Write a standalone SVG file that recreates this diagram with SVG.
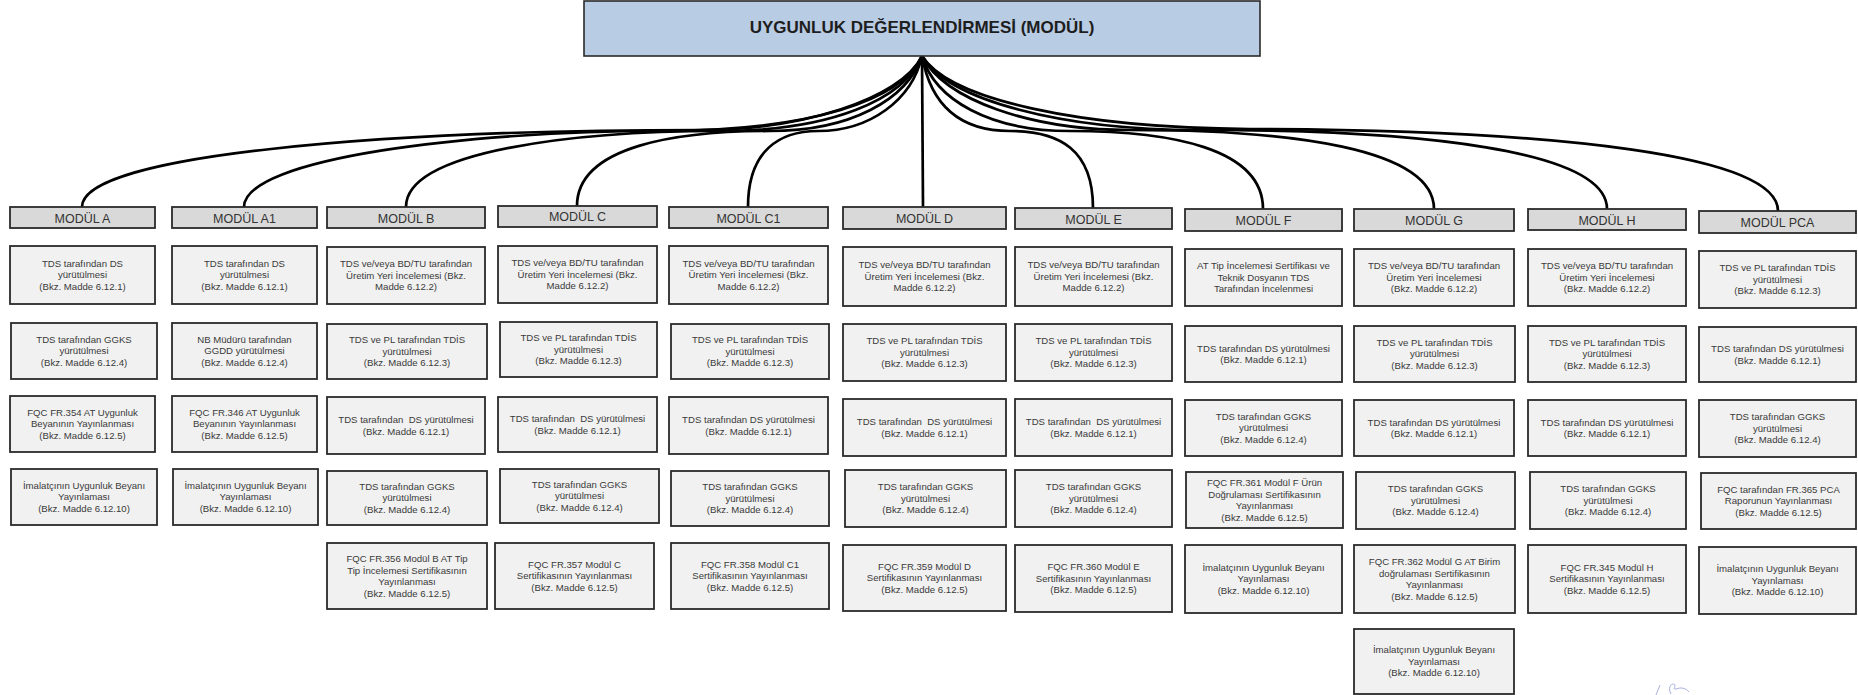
<svg xmlns="http://www.w3.org/2000/svg" width="1858" height="695" viewBox="0 0 1858 695">
<style>
.title{fill:#b8cce4;stroke:#2a2a2a;stroke-width:1.6}
.hdr{fill:#d9d9d9;stroke:#2a2a2a;stroke-width:1.8}
.box{fill:#f1f1f1;stroke:#2a2a2a;stroke-width:1.8}
.tt{font-family:"Liberation Sans",Arial,sans-serif;font-size:17px;font-weight:bold;fill:#1e1e1e;text-anchor:middle}
.h{font-family:"Liberation Sans",Arial,sans-serif;font-size:12.5px;fill:#333;text-anchor:middle}
.t{font-family:"Liberation Sans",Arial,sans-serif;font-size:9.6px;fill:#3a3a3a;text-anchor:middle;white-space:pre}
.conn path{fill:none;stroke:#000;stroke-width:2.7}
</style>
<rect width="1858" height="695" fill="#fff"/>

<g id="connectors" class="conn">
<path d="M922,56 C900,100 800,130 700,130 C380,130 82,155 82,207"/>
<path d="M922,56 C902,100 812,131 660,131 C470,131 244,158 244,207"/>
<path d="M922,56 C904,100 830,131 720,131 C580,131 406,150 406,207"/>
<path d="M922,56 C907,100 850,131 770,131 C680,131 577,145 577,206"/>
<path d="M922,56 C912,100 870,131 818,131 C780,131 748,150 748,207"/>
<path d="M922,56 L923,207"/>
<path d="M922,56 C930,100 955,131 1010,131 C1060,131 1093,150 1093,208"/>
<path d="M922,56 C935,100 990,131 1070,131 C1170,131 1263,148 1263,209"/>
<path d="M922,56 C945,100 1030,130 1130,130 C1290,130 1434,148 1434,209"/>
<path d="M922,56 C948,100 1060,130 1200,130 C1420,130 1607,150 1607,209"/>
<path d="M922,56 C950,100 1080,128 1250,129 C1560,130 1778,155 1778,211"/>
</g>

<g id="root"><rect class="title" x="584" y="1" width="676" height="55"/><text class="tt" x="922" y="33">UYGUNLUK DEĞERLENDİRMESİ (MODÜL)</text></g>

<!-- MODÜL A -->
<g id="modul-a">
<rect class="hdr" x="10" y="207" width="145" height="21"/><text class="h" x="82.5" y="222.5">MODÜL A</text>
</g>
<g id="a1"><rect class="box" x="10" y="246" width="145" height="58"/><text class="t" x="82.5" y="266.9">TDS tarafından DS<tspan x="82.5" dy="11.5">yürütülmesi</tspan><tspan x="82.5" dy="11.5">(Bkz. Madde 6.12.1)</tspan></text></g>
<g id="a2"><rect class="box" x="11" y="323" width="146" height="56"/><text class="t" x="84" y="342.9">TDS tarafından GGKS<tspan x="84" dy="11.5">yürütülmesi</tspan><tspan x="84" dy="11.5">(Bkz. Madde 6.12.4)</tspan></text></g>
<g id="a3"><rect class="box" x="10" y="396" width="145" height="56"/><text class="t" x="82.5" y="415.9">FQC FR.354 AT Uygunluk<tspan x="82.5" dy="11.5">Beyanının Yayınlanması</tspan><tspan x="82.5" dy="11.5">(Bkz. Madde 6.12.5)</tspan></text></g>
<g id="a4"><rect class="box" x="11" y="469" width="146" height="56"/><text class="t" x="84" y="488.9">İmalatçının Uygunluk Beyanı<tspan x="84" dy="11.5">Yayınlaması</tspan><tspan x="84" dy="11.5">(Bkz. Madde 6.12.10)</tspan></text></g>

<!-- MODÜL A1 -->
<g id="modul-a1">
<rect class="hdr" x="172" y="207" width="145" height="21"/><text class="h" x="244.5" y="222.5">MODÜL A1</text>
</g>
<g id="a1-1"><rect class="box" x="172" y="246" width="145" height="58"/><text class="t" x="244.5" y="266.9">TDS tarafından DS<tspan x="244.5" dy="11.5">yürütülmesi</tspan><tspan x="244.5" dy="11.5">(Bkz. Madde 6.12.1)</tspan></text></g>
<g id="a1-2"><rect class="box" x="172" y="323" width="145" height="56"/><text class="t" x="244.5" y="342.9">NB Müdürü tarafından<tspan x="244.5" dy="11.5">GGDD yürütülmesi</tspan><tspan x="244.5" dy="11.5">(Bkz. Madde 6.12.4)</tspan></text></g>
<g id="a1-3"><rect class="box" x="172" y="396" width="145" height="56"/><text class="t" x="244.5" y="415.9">FQC FR.346 AT Uygunluk<tspan x="244.5" dy="11.5">Beyanının Yayınlanması</tspan><tspan x="244.5" dy="11.5">(Bkz. Madde 6.12.5)</tspan></text></g>
<g id="a1-4"><rect class="box" x="173" y="469" width="145" height="56"/><text class="t" x="245.5" y="488.9">İmalatçının Uygunluk Beyanı<tspan x="245.5" dy="11.5">Yayınlaması</tspan><tspan x="245.5" dy="11.5">(Bkz. Madde 6.12.10)</tspan></text></g>

<!-- MODÜL B -->
<g id="modul-b">
<rect class="hdr" x="327" y="207" width="158" height="21"/><text class="h" x="406" y="222.5">MODÜL B</text>
</g>
<g id="b1"><rect class="box" x="327" y="247" width="158" height="57"/><text class="t" x="406" y="267.4">TDS ve/veya BD/TU tarafından<tspan x="406" dy="11.5">Üretim Yeri İncelemesi (Bkz.</tspan><tspan x="406" dy="11.5">Madde 6.12.2)</tspan></text></g>
<g id="b2"><rect class="box" x="327" y="324" width="160" height="55"/><text class="t" x="407" y="343.4">TDS ve PL tarafından TDİS<tspan x="407" dy="11.5">yürütülmesi</tspan><tspan x="407" dy="11.5">(Bkz. Madde 6.12.3)</tspan></text></g>
<g id="b3"><rect class="box" x="327" y="397" width="158" height="57"/><text class="t" x="406" y="423.2">TDS tarafından  DS yürütülmesi<tspan x="406" dy="11.5">(Bkz. Madde 6.12.1)</tspan></text></g>
<g id="b4"><rect class="box" x="327" y="471" width="160" height="54"/><text class="t" x="407" y="489.9">TDS tarafından GGKS<tspan x="407" dy="11.5">yürütülmesi</tspan><tspan x="407" dy="11.5">(Bkz. Madde 6.12.4)</tspan></text></g>
<g id="b5"><rect class="box" x="327" y="543" width="160" height="66"/><text class="t" x="407" y="562.2">FQC FR.356 Modül B AT Tip<tspan x="407" dy="11.5">Tip İncelemesi Sertifikasının</tspan><tspan x="407" dy="11.5">Yayınlanması</tspan><tspan x="407" dy="11.5">(Bkz. Madde 6.12.5)</tspan></text></g>

<!-- MODÜL C -->
<g id="modul-c">
<rect class="hdr" x="498" y="206" width="159" height="21"/><text class="h" x="577.5" y="221">MODÜL C</text>
</g>
<g id="c1"><rect class="box" x="498" y="246" width="159" height="57"/><text class="t" x="577.5" y="266.4">TDS ve/veya BD/TU tarafından<tspan x="577.5" dy="11.5">Üretim Yeri İncelemesi (Bkz.</tspan><tspan x="577.5" dy="11.5">Madde 6.12.2)</tspan></text></g>
<g id="c2"><rect class="box" x="500" y="322" width="157" height="55"/><text class="t" x="578.5" y="341.4">TDS ve PL tarafından TDİS<tspan x="578.5" dy="11.5">yürütülmesi</tspan><tspan x="578.5" dy="11.5">(Bkz. Madde 6.12.3)</tspan></text></g>
<g id="c3"><rect class="box" x="498" y="397" width="159" height="55"/><text class="t" x="577.5" y="422.2">TDS tarafından  DS yürütülmesi<tspan x="577.5" dy="11.5">(Bkz. Madde 6.12.1)</tspan></text></g>
<g id="c4"><rect class="box" x="500" y="469" width="159" height="54"/><text class="t" x="579.5" y="487.9">TDS tarafından GGKS<tspan x="579.5" dy="11.5">yürütülmesi</tspan><tspan x="579.5" dy="11.5">(Bkz. Madde 6.12.4)</tspan></text></g>
<g id="c5"><rect class="box" x="495" y="543" width="159" height="66"/><text class="t" x="574.5" y="567.9">FQC FR.357 Modül C<tspan x="574.5" dy="11.5">Sertifikasının Yayınlanması</tspan><tspan x="574.5" dy="11.5">(Bkz. Madde 6.12.5)</tspan></text></g>

<!-- MODÜL C1 -->
<g id="modul-c1">
<rect class="hdr" x="669" y="207" width="159" height="21"/><text class="h" x="748.5" y="222.5">MODÜL C1</text>
</g>
<g id="c1-1"><rect class="box" x="669" y="246" width="159" height="58"/><text class="t" x="748.5" y="266.9">TDS ve/veya BD/TU tarafından<tspan x="748.5" dy="11.5">Üretim Yeri İncelemesi (Bkz.</tspan><tspan x="748.5" dy="11.5">Madde 6.12.2)</tspan></text></g>
<g id="c1-2"><rect class="box" x="671" y="324" width="158" height="55"/><text class="t" x="750" y="343.4">TDS ve PL tarafından TDİS<tspan x="750" dy="11.5">yürütülmesi</tspan><tspan x="750" dy="11.5">(Bkz. Madde 6.12.3)</tspan></text></g>
<g id="c1-3"><rect class="box" x="669" y="397" width="159" height="57"/><text class="t" x="748.5" y="423.2">TDS tarafından DS yürütülmesi<tspan x="748.5" dy="11.5">(Bkz. Madde 6.12.1)</tspan></text></g>
<g id="c1-4"><rect class="box" x="671" y="471" width="158" height="55"/><text class="t" x="750" y="490.4">TDS tarafından GGKS<tspan x="750" dy="11.5">yürütülmesi</tspan><tspan x="750" dy="11.5">(Bkz. Madde 6.12.4)</tspan></text></g>
<g id="c1-5"><rect class="box" x="671" y="543" width="158" height="66"/><text class="t" x="750" y="567.9">FQC FR.358 Modül C1<tspan x="750" dy="11.5">Sertifikasının Yayınlanması</tspan><tspan x="750" dy="11.5">(Bkz. Madde 6.12.5)</tspan></text></g>

<!-- MODÜL D -->
<g id="modul-d">
<rect class="hdr" x="843" y="207" width="163" height="22"/><text class="h" x="924.5" y="223">MODÜL D</text>
</g>
<g id="d1"><rect class="box" x="843" y="247" width="163" height="59"/><text class="t" x="924.5" y="268.4">TDS ve/veya BD/TU tarafından<tspan x="924.5" dy="11.5">Üretim Yeri İncelemesi (Bkz.</tspan><tspan x="924.5" dy="11.5">Madde 6.12.2)</tspan></text></g>
<g id="d2"><rect class="box" x="843" y="324" width="163" height="57"/><text class="t" x="924.5" y="344.4">TDS ve PL tarafından TDİS<tspan x="924.5" dy="11.5">yürütülmesi</tspan><tspan x="924.5" dy="11.5">(Bkz. Madde 6.12.3)</tspan></text></g>
<g id="d3"><rect class="box" x="843" y="399" width="163" height="57"/><text class="t" x="924.5" y="425.2">TDS tarafından  DS yürütülmesi<tspan x="924.5" dy="11.5">(Bkz. Madde 6.12.1)</tspan></text></g>
<g id="d4"><rect class="box" x="845" y="470" width="161" height="57"/><text class="t" x="925.5" y="490.4">TDS tarafından GGKS<tspan x="925.5" dy="11.5">yürütülmesi</tspan><tspan x="925.5" dy="11.5">(Bkz. Madde 6.12.4)</tspan></text></g>
<g id="d5"><rect class="box" x="843" y="545" width="163" height="66"/><text class="t" x="924.5" y="569.9">FQC FR.359 Modül D<tspan x="924.5" dy="11.5">Sertifikasının Yayınlanması</tspan><tspan x="924.5" dy="11.5">(Bkz. Madde 6.12.5)</tspan></text></g>

<!-- MODÜL E -->
<g id="modul-e">
<rect class="hdr" x="1015" y="208" width="157" height="21"/><text class="h" x="1093.5" y="223.5">MODÜL E</text>
</g>
<g id="e1"><rect class="box" x="1015" y="247" width="157" height="59"/><text class="t" x="1093.5" y="268.4">TDS ve/veya BD/TU tarafından<tspan x="1093.5" dy="11.5">Üretim Yeri İncelemesi (Bkz.</tspan><tspan x="1093.5" dy="11.5">Madde 6.12.2)</tspan></text></g>
<g id="e2"><rect class="box" x="1015" y="324" width="157" height="57"/><text class="t" x="1093.5" y="344.4">TDS ve PL tarafından TDİS<tspan x="1093.5" dy="11.5">yürütülmesi</tspan><tspan x="1093.5" dy="11.5">(Bkz. Madde 6.12.3)</tspan></text></g>
<g id="e3"><rect class="box" x="1015" y="399" width="157" height="57"/><text class="t" x="1093.5" y="425.2">TDS tarafından  DS yürütülmesi<tspan x="1093.5" dy="11.5">(Bkz. Madde 6.12.1)</tspan></text></g>
<g id="e4"><rect class="box" x="1015" y="470" width="157" height="57"/><text class="t" x="1093.5" y="490.4">TDS tarafından GGKS<tspan x="1093.5" dy="11.5">yürütülmesi</tspan><tspan x="1093.5" dy="11.5">(Bkz. Madde 6.12.4)</tspan></text></g>
<g id="e5"><rect class="box" x="1015" y="545" width="157" height="67"/><text class="t" x="1093.5" y="570.4">FQC FR.360 Modül E<tspan x="1093.5" dy="11.5">Sertifikasının Yayınlanması</tspan><tspan x="1093.5" dy="11.5">(Bkz. Madde 6.12.5)</tspan></text></g>

<!-- MODÜL F -->
<g id="modul-f">
<rect class="hdr" x="1185" y="209" width="157" height="22"/><text class="h" x="1263.5" y="225">MODÜL F</text>
</g>
<g id="f1"><rect class="box" x="1185" y="249" width="157" height="57"/><text class="t" x="1263.5" y="269.4">AT Tip İncelemesi Sertifikası ve<tspan x="1263.5" dy="11.5">Teknik Dosyanın TDS</tspan><tspan x="1263.5" dy="11.5">Tarafından İncelenmesi</tspan></text></g>
<g id="f2"><rect class="box" x="1185" y="326" width="157" height="56"/><text class="t" x="1263.5" y="351.7">TDS tarafından DS yürütülmesi<tspan x="1263.5" dy="11.5">(Bkz. Madde 6.12.1)</tspan></text></g>
<g id="f3"><rect class="box" x="1185" y="400" width="157" height="56"/><text class="t" x="1263.5" y="419.9">TDS tarafından GGKS<tspan x="1263.5" dy="11.5">yürütülmesi</tspan><tspan x="1263.5" dy="11.5">(Bkz. Madde 6.12.4)</tspan></text></g>
<g id="f4"><rect class="box" x="1186" y="472" width="157" height="56"/><text class="t" x="1264.5" y="486.2">FQC FR.361 Modül F Ürün<tspan x="1264.5" dy="11.5">Doğrulaması Sertifikasının</tspan><tspan x="1264.5" dy="11.5">Yayınlanması</tspan><tspan x="1264.5" dy="11.5">(Bkz. Madde 6.12.5)</tspan></text></g>
<g id="f5"><rect class="box" x="1185" y="545" width="157" height="68"/><text class="t" x="1263.5" y="570.9">İmalatçının Uygunluk Beyanı<tspan x="1263.5" dy="11.5">Yayınlaması</tspan><tspan x="1263.5" dy="11.5">(Bkz. Madde 6.12.10)</tspan></text></g>

<!-- MODÜL G -->
<g id="modul-g">
<rect class="hdr" x="1354" y="209" width="160" height="22"/><text class="h" x="1434" y="225">MODÜL G</text>
</g>
<g id="g1"><rect class="box" x="1354" y="249" width="160" height="57"/><text class="t" x="1434" y="269.4">TDS ve/veya BD/TU tarafından<tspan x="1434" dy="11.5">Üretim Yeri İncelemesi</tspan><tspan x="1434" dy="11.5">(Bkz. Madde 6.12.2)</tspan></text></g>
<g id="g2"><rect class="box" x="1354" y="326" width="161" height="56"/><text class="t" x="1434.5" y="345.9">TDS ve PL tarafından TDİS<tspan x="1434.5" dy="11.5">yürütülmesi</tspan><tspan x="1434.5" dy="11.5">(Bkz. Madde 6.12.3)</tspan></text></g>
<g id="g3"><rect class="box" x="1354" y="400" width="160" height="56"/><text class="t" x="1434" y="425.7">TDS tarafından DS yürütülmesi<tspan x="1434" dy="11.5">(Bkz. Madde 6.12.1)</tspan></text></g>
<g id="g4"><rect class="box" x="1356" y="472" width="159" height="57"/><text class="t" x="1435.5" y="492.4">TDS tarafından GGKS<tspan x="1435.5" dy="11.5">yürütülmesi</tspan><tspan x="1435.5" dy="11.5">(Bkz. Madde 6.12.4)</tspan></text></g>
<g id="g5"><rect class="box" x="1354" y="545" width="161" height="68"/><text class="t" x="1434.5" y="565.2">FQC FR.362 Modül G AT Birim<tspan x="1434.5" dy="11.5">doğrulaması Sertifikasının</tspan><tspan x="1434.5" dy="11.5">Yayınlanması</tspan><tspan x="1434.5" dy="11.5">(Bkz. Madde 6.12.5)</tspan></text></g>
<g id="g6"><rect class="box" x="1354" y="629" width="160" height="65"/><text class="t" x="1434" y="653.4">İmalatçının Uygunluk Beyanı<tspan x="1434" dy="11.5">Yayınlaması</tspan><tspan x="1434" dy="11.5">(Bkz. Madde 6.12.10)</tspan></text></g>

<!-- MODÜL H -->
<g id="modul-h">
<rect class="hdr" x="1528" y="209" width="158" height="21"/><text class="h" x="1607" y="224.5">MODÜL H</text>
</g>
<g id="h1"><rect class="box" x="1528" y="249" width="158" height="57"/><text class="t" x="1607" y="269.4">TDS ve/veya BD/TU tarafından<tspan x="1607" dy="11.5">Üretim Yeri İncelemesi</tspan><tspan x="1607" dy="11.5">(Bkz. Madde 6.12.2)</tspan></text></g>
<g id="h2"><rect class="box" x="1528" y="326" width="158" height="56"/><text class="t" x="1607" y="345.9">TDS ve PL tarafından TDİS<tspan x="1607" dy="11.5">yürütülmesi</tspan><tspan x="1607" dy="11.5">(Bkz. Madde 6.12.3)</tspan></text></g>
<g id="h3"><rect class="box" x="1528" y="400" width="158" height="56"/><text class="t" x="1607" y="425.7">TDS tarafından DS yürütülmesi<tspan x="1607" dy="11.5">(Bkz. Madde 6.12.1)</tspan></text></g>
<g id="h4"><rect class="box" x="1530" y="472" width="156" height="57"/><text class="t" x="1608" y="492.4">TDS tarafından GGKS<tspan x="1608" dy="11.5">yürütülmesi</tspan><tspan x="1608" dy="11.5">(Bkz. Madde 6.12.4)</tspan></text></g>
<g id="h5"><rect class="box" x="1528" y="545" width="158" height="68"/><text class="t" x="1607" y="570.9">FQC FR.345 Modül H<tspan x="1607" dy="11.5">Sertifikasının Yayınlanması</tspan><tspan x="1607" dy="11.5">(Bkz. Madde 6.12.5)</tspan></text></g>

<!-- MODÜL PCA -->
<g id="modul-pca">
<rect class="hdr" x="1699" y="211" width="157" height="22"/><text class="h" x="1777.5" y="227">MODÜL PCA</text>
</g>
<g id="pca1"><rect class="box" x="1699" y="251" width="157" height="57"/><text class="t" x="1777.5" y="271.4">TDS ve PL tarafından TDİS<tspan x="1777.5" dy="11.5">yürütülmesi</tspan><tspan x="1777.5" dy="11.5">(Bkz. Madde 6.12.3)</tspan></text></g>
<g id="pca2"><rect class="box" x="1699" y="327" width="157" height="55"/><text class="t" x="1777.5" y="352.2">TDS tarafından DS yürütülmesi<tspan x="1777.5" dy="11.5">(Bkz. Madde 6.12.1)</tspan></text></g>
<g id="pca3"><rect class="box" x="1699" y="400" width="157" height="57"/><text class="t" x="1777.5" y="420.4">TDS tarafından GGKS<tspan x="1777.5" dy="11.5">yürütülmesi</tspan><tspan x="1777.5" dy="11.5">(Bkz. Madde 6.12.4)</tspan></text></g>
<g id="pca4"><rect class="box" x="1701" y="473" width="155" height="56"/><text class="t" x="1778.5" y="492.9">FQC tarafından FR.365 PCA<tspan x="1778.5" dy="11.5">Raporunun Yayınlanması</tspan><tspan x="1778.5" dy="11.5">(Bkz. Madde 6.12.5)</tspan></text></g>
<g id="pca5"><rect class="box" x="1699" y="547" width="157" height="67"/><text class="t" x="1777.5" y="572.4">İmalatçının Uygunluk Beyanı<tspan x="1777.5" dy="11.5">Yayınlaması</tspan><tspan x="1777.5" dy="11.5">(Bkz. Madde 6.12.10)</tspan></text></g>

<path d="M1656,695 L1660,685 M1671,694 C1668,688 1670,684 1674,684 C1677,686 1672,690 1676,689 C1681,687 1686,688 1689,692" fill="none" stroke="#6f7fc4" stroke-width="1" opacity="0.6"/>
</svg>
